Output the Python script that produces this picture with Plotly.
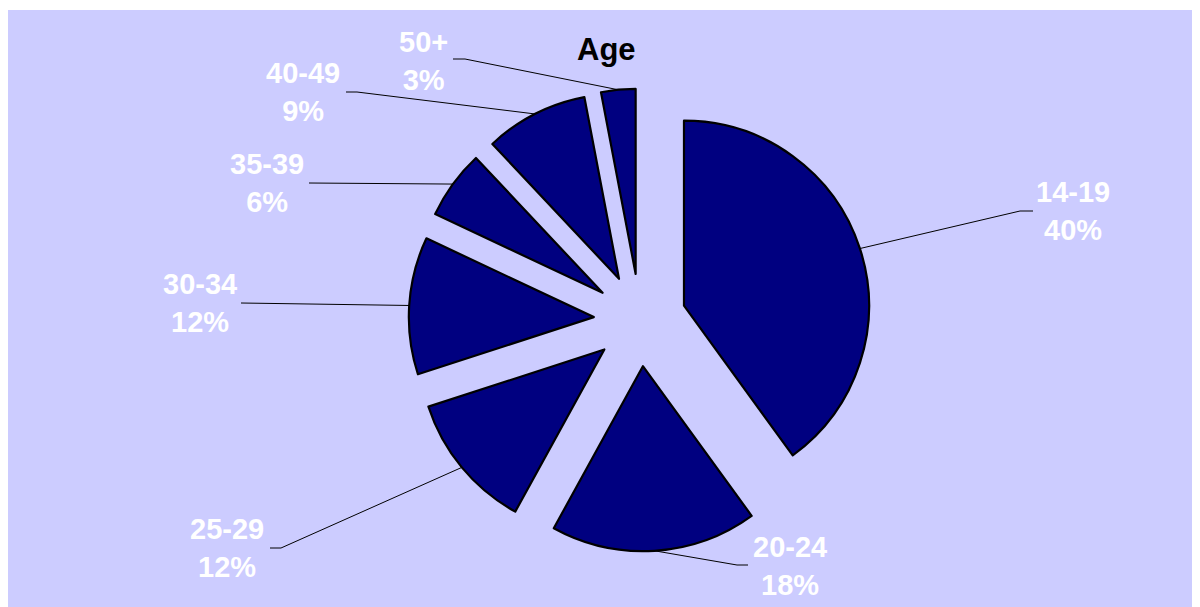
import math
import plotly.graph_objects as go

# ---- data ----
age_groups = ["14-19", "20-24", "25-29", "30-34", "35-39", "40-49", "50+"]
shares = [40, 18, 12, 12, 6, 9, 3]
chart_title = "Age"

# ---- layout / style (positions given in page pixels of the 1200x607 window) ----
OFF = 8                     # default body margin of the html page
W, H = 1200 - OFF, 607 - OFF
PULL = 0.25
CX, CY = 640, 320           # pie centre (page px)
R = 185                     # pie radius (px)
label_centres = [(1073, 211), (790, 566), (227, 548), (200, 303), (267, 183), (303, 92), (423, 61)]
line_elbows = [(1020, 211), (737, 565), (281, 548), (241, 303), (309, 183), (357, 92), (465, 59)]
line_ends = [(1033, 211), (748, 565), (270, 548), (241, 303), (309, 183), (346, 92), (453, 59)]
NAVY = "#000080"
BG = "#CCCCFF"
FONT = "Liberation Sans, Arial, sans-serif"

def px(x):
    return (x - OFF) / W

def py(y):
    return 1 - (y - OFF) / H

half = R * (1 + PULL)
dom_x = [px(CX - 300), px(CX + 300)]
dom_y = [py(CY + half), py(CY - half)]

fig = go.Figure(go.Pie(
    labels=age_groups,
    values=shares,
    sort=False,
    direction="clockwise",
    rotation=0,
    pull=[PULL] * len(shares),
    marker=dict(colors=[NAVY] * len(shares), line=dict(color="black", width=2.2)),
    textinfo="none",
    hoverinfo="label+percent",
    showlegend=False,
    domain=dict(x=dom_x, y=dom_y),
))

shapes = [dict(type="rect", xref="paper", yref="paper", x0=0, x1=1, y0=0, y1=py(10),
               fillcolor=BG, line=dict(width=0), layer="below")]
annotations = []
total = sum(shares)
cum = 0
for i, (lab, v) in enumerate(zip(age_groups, shares)):
    mid = (cum + v / 2) / total * 2 * math.pi
    cum += v
    ax = CX + (R + R * PULL) * math.sin(mid)
    ay = CY - (R + R * PULL) * math.cos(mid)
    ex, ey = line_elbows[i]
    fx, fy = line_ends[i]
    path = f"M {px(ax)} {py(ay)} L {px(ex)} {py(ey)} L {px(fx)} {py(fy)}"
    shapes.append(dict(type="path", xref="paper", yref="paper", path=path,
                       line=dict(color="black", width=1), layer="above"))
    lx, ly = label_centres[i]
    pct = round(v / total * 100)
    annotations.append(dict(x=px(lx), y=py(ly), xref="paper", yref="paper",
                            text=f"<b>{lab}<br>{pct}%</b>", showarrow=False,
                            xanchor="center", yanchor="middle",
                            font=dict(family=FONT, size=29, color="white")))

annotations.append(dict(x=px(606), y=py(50), xref="paper", yref="paper",
                        text=f"<b>{chart_title}</b>", showarrow=False,
                        xanchor="center", yanchor="middle",
                        font=dict(family=FONT, size=31, color="black")))

fig.update_layout(
    width=W, height=H,
    margin=dict(l=0, r=0, t=0, b=0),
    paper_bgcolor="white",
    plot_bgcolor="white",
    shapes=shapes,
    annotations=annotations,
)

fig.write_html("out.html")
